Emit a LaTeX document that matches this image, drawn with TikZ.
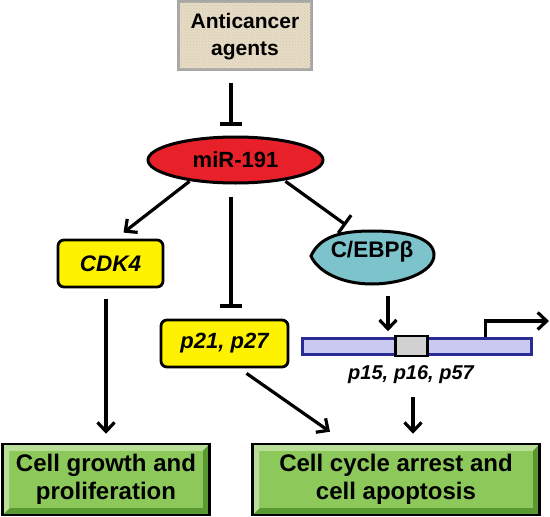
\documentclass[tikz,border=0pt]{standalone}
\usepackage{fontspec}
\setmainfont{Liberation Sans}
\usetikzlibrary{arrows.meta,calc,patterns,shapes.geometric}
\definecolor{beige}{HTML}{E6DCC6}
\definecolor{beigeline}{HTML}{D6CAAF}
\definecolor{mirred}{HTML}{E8202A}
\definecolor{yel}{HTML}{FFF200}
\definecolor{teal}{HTML}{7CC3CB}
\definecolor{lav}{HTML}{C9C9F2}
\definecolor{navy}{HTML}{2B2B96}
\definecolor{gface}{HTML}{8CC85A}
\definecolor{glight}{HTML}{B8DE98}
\definecolor{gdark}{HTML}{5A9832}
\begin{document}
\begin{tikzpicture}[x=1pt,y=-1pt,
  ln/.style={line width=3.2pt},
  act/.style={ln,-{Straight Barb[length=9pt,width=17pt,line width=3.2pt]}},
  inh/.style={ln,-{Bar[width=22pt,line width=3.2pt]}},
  ybox/.style={draw=black,line width=2.8pt,fill=yel,rounded corners=6pt,
    inner sep=0pt,font=\fontsize{22.5}{26}\bfseries\itshape},
  gbox/.style={draw=black,line width=2.5pt,fill=gdark,inner sep=0pt,align=center,
    font=\fontsize{24}{28}\bfseries,
    path picture={
      \fill[glight] (path picture bounding box.north west) -- (path picture bounding box.north east)
        -- ([shift={(-7pt,-7pt)}]path picture bounding box.north east)
        -- ([shift={(7pt,-7pt)}]path picture bounding box.north west)
        -- ([shift={(7pt,7pt)}]path picture bounding box.south west)
        -- (path picture bounding box.south west) -- cycle;
      \fill[gface] ([shift={(7pt,-7pt)}]path picture bounding box.north west)
        rectangle ([shift={(-7pt,7pt)}]path picture bounding box.south east);
    }},
]
\useasboundingbox (0,0) rectangle (550,517);

% Anticancer agents
\node[draw=black!35,line width=3pt,fill=beige,minimum width=133pt,minimum height=68pt,
  inner sep=0pt,postaction={pattern=crosshatch dots,pattern color=beigeline}] (anti) at (245,35.5) {};
\node[align=center,font=\fontsize{21}{27}\bfseries] (antitxt) at (245,37) {Anticancer\\agents};

% miR-191
\node[ellipse,draw=black,line width=3pt,fill=mirred,minimum width=175pt,minimum height=46pt,
  inner sep=0pt,font=\fontsize{22}{25}\bfseries] (mir) at (235.5,160) {miR-191};

% CDK4 and p21
\node[ybox,minimum width=105pt,minimum height=47pt] (cdk) at (110.5,263.5) {CDK4};
\node[ybox,minimum width=127pt,minimum height=47pt,font=\fontsize{22}{26}\bfseries\itshape] (p21) at (224.5,343.5) {p21, p27};

% C/EBPbeta
\draw[line width=3pt,fill=teal] (311,256) .. controls (320,236) and (342,231) .. (372,231)
  .. controls (412,231) and (434,240) .. (434,255)
  .. controls (434,272) and (402,284) .. (372,284)
  .. controls (342,284) and (318,272) .. (311,256) -- cycle;
\node[font=\fontsize{22.5}{26}\bfseries] (ceb) at (372,252) {C/EBPβ};

% gene
\node[draw=navy,line width=2.5pt,fill=lav,minimum width=229pt,minimum height=16pt,inner sep=0pt] (gene) at (417,346.5) {};
\node[draw=black,line width=2.5pt,fill=black!18,minimum width=32pt,minimum height=20pt,inner sep=0pt] (prom) at (411.5,346) {};
\coordinate (tss) at ($(gene.north)+(68.5,0)$);
\coordinate (tssend) at (549,321);
\draw[act] (tss) |- (tssend);
\node[font=\fontsize{20}{24}\bfseries\itshape] (lbl) at (411,375) {p15, p16, p57};

% outcome boxes
\node[gbox,minimum width=207pt,minimum height=71pt] (grow) at (106,479.5) {Cell growth and\\proliferation};
\node[gbox,minimum width=287pt,minimum height=71pt] (cyc) at (396,479.5) {Cell cycle arrest and\\cell apoptosis};

% connectors
\draw[inh] ($(anti.south)+(-14,12)$) -- ($(mir.north)+(-4.5,-10)$);
\draw[act] ($(mir.south west)+(17,4)$) -- ($(cdk.north)+(13,-6)$);
\draw[inh] ($(mir.south)+(-4.5,12)$) -- ($(p21.north)+(6.5,-11)$);
\draw[inh] ($(mir.south east)+(-13,4)$) -- ($(ceb)+(-26,-27)$);
\draw[act] ($(cdk.south)+(-4.5,11)$) -- ($(grow.north)+(0,-9)$);
\draw[act] ($(p21.south)+(22,5)$) -- ($(cyc.north)+(-66,-11)$);
\draw[act] ($(ceb)+(16,44)$) -- ($(gene.north)+(-29,-6)$);
\draw[act] ($(lbl)+(2,22)$) -- ($(cyc.north)+(17,-9)$);
\end{tikzpicture}
\end{document}
